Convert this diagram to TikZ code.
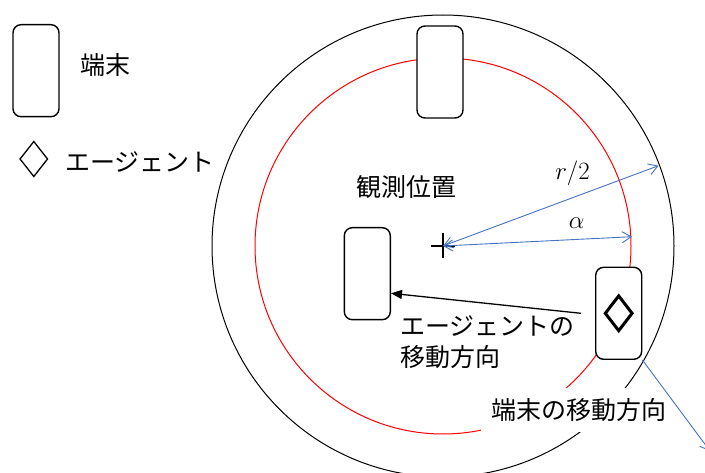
\documentclass[tikz,border=0pt]{standalone}
\usepackage{fontspec}
\newfontfamily\jp{Noto Sans CJK JP}
\usetikzlibrary{arrows.meta,shapes.geometric}
\definecolor{officeblue}{RGB}{68,114,196}
\tikzset{
  term/.style={draw, rounded corners=8pt, line width=1.4pt, fill=white,
    minimum width=46pt, minimum height=92pt, inner sep=0pt},
  agentmark/.style={draw, diamond, inner sep=0pt},
  jptext/.style={font=\jp\fontsize{25pt}{31pt}\selectfont, inner sep=0pt},
  mathlabel/.style={font=\fontsize{23pt}{28pt}\selectfont, inner sep=0pt},
  bluearrow/.style={draw=officeblue, line width=0.9pt,
    {Straight Barb[length=9pt,width=11pt]}-{Straight Barb[length=9pt,width=11pt]}},
  bluepointer/.style={draw=officeblue, line width=0.9pt,
    -{Straight Barb[length=9pt,width=11pt]}},
}
\begin{document}
\begin{tikzpicture}[x=1pt,y=-1pt]
\useasboundingbox (0,0) rectangle (705,473);
% centre
\coordinate (c) at (443,246);
% circles
\draw[black, line width=1pt] (c) circle [radius=231pt];
\draw[red, line width=1pt] (c) circle [radius=188pt];
% crosshair
\draw[line width=2.6pt] (431,246) -- (455,246);
\draw[line width=2.6pt] (443,233.5) -- (443,258.5);
% legend
\node[term] (legterm) at (36,70.7) {};
\node[jptext] (legtermlbl) at (105,65) {端末};
\node[agentmark, line width=1.3pt, minimum width=28pt, minimum height=35.5pt] (legagent) at (33.8,159) {};
\node[jptext] (legagentlbl) at (140,162) {エージェント};
% terminals
\node[term] (topterm) at (440,72) {};
\node[term] (leftterm) at (367.3,273.7) {};
\node[term] (rightterm) at (618.7,313.3) {};
\node[agentmark, line width=3pt, minimum width=28pt, minimum height=36pt] (agent) at (618.7,313.3) {};
% labels
\node[jptext] (obs) at (406,187) {観測位置};
\node[jptext, align=left, anchor=west] (agentdir) at (400,342) {エージェントの\\移動方向};
\node[jptext, fill=white, minimum width=196pt, minimum height=44pt] (termdir) at (579,410) {端末の移動方向};
\node[mathlabel] (rlbl) at (572.5,173) {$r/2$};
\node[mathlabel] (albl) at (576.7,222.7) {$\alpha$};
% agent movement arrow
\coordinate (astart) at (581,313.3);
\coordinate (atip) at (391,293.3);
\draw[line width=1.3pt, -{Triangle[length=11pt,width=9pt]}] (astart) -- (atip);
% radius arrows
\coordinate (rend) at (658.5,165.7);
\coordinate (aend) at (632,236.7);
\draw[bluearrow] (c) -- (rend);
\draw[bluearrow] (c) -- (aend);
% terminal movement direction
\coordinate (tdirend) at (710,451);
\draw[bluepointer] (rightterm.south east) -- (tdirend);
\end{tikzpicture}
\end{document}
